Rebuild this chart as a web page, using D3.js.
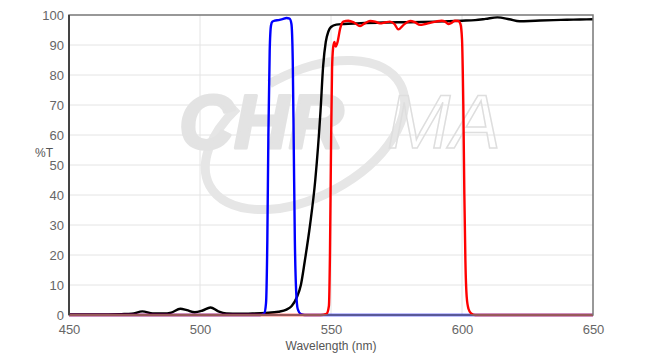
<!DOCTYPE html>
<html>
<head>
<meta charset="utf-8">
<script src="https://cdn.jsdelivr.net/npm/d3@7"></script>
<style>
  body { margin: 0; background: #fff; }
  svg text { font-family: "Liberation Sans", Arial, sans-serif; }
</style>
</head>
<body>
<svg id="chart"></svg>
<script>
var W = 652, H = 354;
var MARGIN = { LEFT: 69, RIGHT: 59, TOP: 15, BOTTOM: 39 };
var plotW = W - MARGIN.LEFT - MARGIN.RIGHT,
    plotH = H - MARGIN.TOP - MARGIN.BOTTOM;

// tick values
var xTicks = [450, 500, 550, 600, 650];
var yTicks = [0, 10, 20, 30, 40, 50, 60, 70, 80, 90, 100];

// black curve (long-pass)
var blackNm = [450, 460, 470, 474, 478, 482, 486, 489, 492.5, 495, 498, 501, 504, 507, 510, 515, 520, 525, 530, 533, 535, 537, 538.5, 540, 542, 544, 546, 547, 548, 549, 550, 552, 555, 560, 570, 580, 590, 600, 605, 609, 613.5, 618, 622, 628, 635, 640, 645, 650];
var blackT  = [0.2, 0.2, 0.3, 0.4, 1.2, 0.5, 0.5, 0.8, 2.1, 1.6, 0.9, 1.5, 2.5, 1.2, 0.5, 0.4, 0.5, 0.7, 1.1, 1.8, 3, 6, 10, 18, 30, 45, 68, 83, 91, 94.5, 96, 96.8, 97, 97.2, 97.5, 97.6, 97.8, 98.1, 98.3, 98.7, 99.2, 98.6, 97.9, 98.1, 98.3, 98.4, 98.5, 98.6];

// blue curve (band-pass)
var blueNm = [450, 523, 524.5, 525.2, 525.7, 526.1, 526.6, 527.1, 527.6, 528.5, 530, 531.5, 533, 534.2, 534.9, 535.4, 535.8, 536.2, 536.7, 537.3, 538.5, 540, 650];
var blueT  = [0, 0, 0.5, 4, 25, 60, 88, 96.5, 97.8, 98.1, 98.3, 98.6, 99, 98.8, 97, 85, 55, 25, 8, 2, 0.3, 0, 0];

// red curve (band-pass)
var redNm = [450, 546, 548.3, 549.2, 549.6, 550, 550.4, 550.8, 551.3, 551.8, 552.5, 553.5, 554.7, 556.6, 558.8, 561.1, 563, 564.9, 566.8, 568.7, 570.6, 572.5, 574.2, 575.7, 577.8, 580.2, 582, 584, 585.9, 587.8, 590, 592.2, 593.5, 594.8, 596, 597.3, 598.6, 599.4, 600, 600.5, 600.9, 601.3, 601.8, 602.5, 603.5, 605, 650];
var redT  = [0, 0, 0.4, 3, 20, 55, 82, 89, 91, 89.5, 91, 95.5, 97.8, 98.1, 97.5, 96.3, 97.3, 98, 97.8, 97.2, 97.5, 97.8, 97, 95.2, 96.8, 98, 97.6, 96.7, 97, 97.4, 97.8, 98.1, 97.8, 97, 97.4, 98.1, 98, 97, 92, 70, 40, 18, 6, 2, 0.5, 0, 0];

var xScale = d3.scaleLinear().domain([450, 650]).range([0, plotW]);
var yScale = d3.scaleLinear().domain([0, 100]).range([plotH, 0]);

var svg = d3.select('#chart')
    .attr('width', W)
    .attr('height', H);

var inner = svg.append('g')
    .attr('transform', 'translate(' + MARGIN.LEFT + ',' + MARGIN.TOP + ')');

// grid
inner.append('g')
    .selectAll('line')
    .data(yTicks.slice(1, -1))
    .join('line')
    .attr('x1', 0).attr('x2', plotW)
    .attr('y1', function (d) { return yScale(d); })
    .attr('y2', function (d) { return yScale(d); })
    .style('stroke', '#e4e4e4')
    .style('stroke-width', 1);
inner.append('g')
    .selectAll('line')
    .data(xTicks.slice(1, -1))
    .join('line')
    .attr('y1', 0).attr('y2', plotH)
    .attr('x1', function (d) { return xScale(d); })
    .attr('x2', function (d) { return xScale(d); })
    .style('stroke', '#e4e4e4')
    .style('stroke-width', 1);

// watermark
var wm = inner.append('g')
    .attr('transform', 'translate(' + (xScale(550) - 26) + ',' + yScale(60) + ')')
    .style('pointer-events', 'none');
wm.append('ellipse')
    .attr('cx', 0).attr('cy', 0)
    .attr('rx', 108).attr('ry', 62)
    .attr('transform', 'rotate(-28)')
    .style('fill', 'none')
    .style('stroke', '#e6e6e6')
    .style('stroke-width', 9)
    .style('stroke-dasharray', '360 40');
wm.append('text')
    .attr('x', -126).attr('y', 13)
    .text('CHR')
    .style('font-size', '76px')
    .style('font-weight', 'bold')
    .style('font-style', 'italic')
    .style('fill', '#e3e3e3')
    .style('stroke', '#e3e3e3')
    .style('stroke-width', 3)
    .style('stroke-linejoin', 'round');
wm.append('text')
    .attr('x', 82).attr('y', 13)
    .text('MA')
    .style('font-size', '76px')
    .style('font-style', 'italic')
    .style('fill', 'none')
    .style('stroke', '#dedede')
    .style('stroke-width', 1.5);

// axes labels
var yAxis = d3.axisLeft(yScale).tickValues(yTicks).tickSize(0).tickPadding(5);
var xAxis = d3.axisBottom(xScale).tickValues(xTicks).tickSize(0).tickPadding(10);

var gy = inner.append('g').call(yAxis);
var gx = inner.append('g').attr('transform', 'translate(0,' + plotH + ')').call(xAxis);
[gx, gy].forEach(function (g) {
    g.select('.domain').remove();
    g.selectAll('text')
        .style('font-size', '13px')
        .style('fill', '#666')
        .style('font-family', '"Liberation Sans", Arial, sans-serif');
});

svg.append('text')
    .attr('x', 44).attr('y', 157)
    .attr('text-anchor', 'middle')
    .text('%T')
    .style('font-size', '12px')
    .style('fill', '#555');
svg.append('text')
    .attr('x', MARGIN.LEFT + plotW / 2).attr('y', 350)
    .attr('text-anchor', 'middle')
    .text('Wavelength (nm)')
    .style('font-size', '12px')
    .style('fill', '#555');

// series
var line = d3.line()
    .x(function (d) { return xScale(d[0]); })
    .y(function (d) { return yScale(d[1]); })
    .curve(d3.curveMonotoneX);

var series = [
    { nm: blackNm, t: blackT, color: '#000000' },
    { nm: blueNm, t: blueT, color: '#0000ff' },
    { nm: redNm, t: redT, color: '#ff0000' }
];
series.forEach(function (s) {
    inner.append('path')
        .datum(d3.zip(s.nm, s.t))
        .attr('d', line)
        .style('fill', 'none')
        .style('stroke', s.color)
        .style('stroke-width', 2.4)
        .style('stroke-linejoin', 'round');
});

// frame
inner.append('rect')
    .attr('x', 0).attr('y', 0)
    .attr('width', plotW).attr('height', plotH)
    .style('fill', 'none')
    .style('stroke', '#777')
    .style('stroke-width', 1.5);
inner.append('line')
    .attr('x1', 0).attr('x2', 0)
    .attr('y1', 0).attr('y2', plotH)
    .style('stroke', '#444')
    .style('stroke-width', 2);
</script>
</body>
</html>
